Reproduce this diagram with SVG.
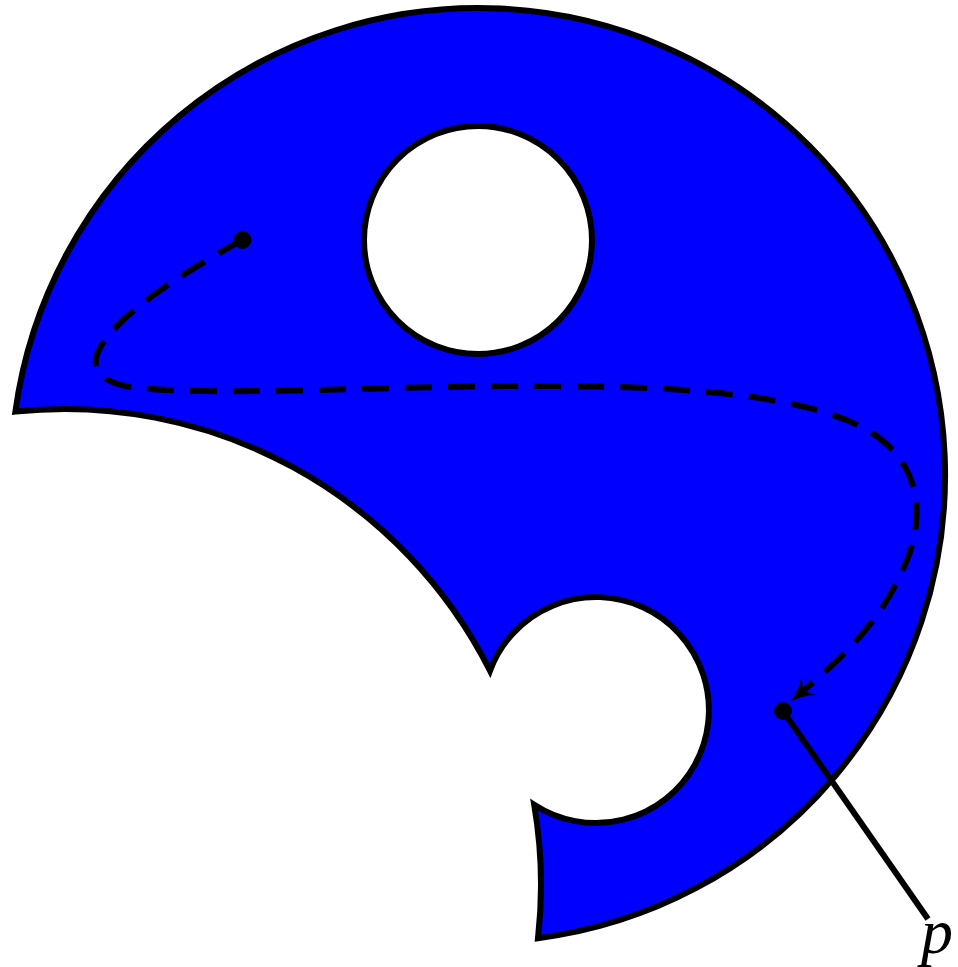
<svg xmlns="http://www.w3.org/2000/svg" width="958" height="967" viewBox="0 0 958 967">
<style>
.edge{fill:none;stroke:#000;stroke-width:6}
.dash{fill:none;stroke:#000;stroke-width:6;stroke-dasharray:27 16}
.dot{fill:#000}
.lbl{font-family:"Liberation Serif",serif;font-style:italic;font-size:64px;fill:#000}
</style>
<defs>
<marker id="arr" viewBox="-20 -16 32 32" markerWidth="32" markerHeight="32" refX="0" refY="0" orient="auto" markerUnits="userSpaceOnUse" overflow="visible">
<path d="M -16 -12 Q -5 -3 9 0 Q -5 3 -16 12 L -8 0 Z" fill="#000"/>
</marker>
</defs>
<g id="region">
<path d="M 15.4 411.6 A 467 467 0 1 1 538.0 938.2 A 476 476 0 0 0 534.2 804.7 A 113 113 0 1 0 490.0 670.7 A 476 476 0 0 0 15.4 411.6 Z" fill="#0000ff" stroke="#000" stroke-width="6" stroke-linejoin="miter"/>
</g>
<g id="hole-top">
<circle cx="478" cy="240" r="114" fill="#fff" stroke="#000" stroke-width="6"/>
</g>
<g id="connectors">
<path class="dash" d="M 242 240 C 180 275 125 310 103 343 C 88 365 96 381 130 387 C 200 396 350 388 500 386 C 650 385 790 390 862 427 C 920 458 926 512 907 560 C 885 615 852 650 797 696" marker-end="url(#arr)"/>
<line class="edge" x1="783" y1="711" x2="928" y2="919"/>
</g>
<g id="dot-start"><circle class="dot" cx="242.5" cy="240" r="9"/></g>
<g id="dot-p"><circle class="dot" cx="783" cy="711" r="9"/></g>
<g id="label-p"><text class="lbl" x="921" y="953">p</text></g>
</svg>
